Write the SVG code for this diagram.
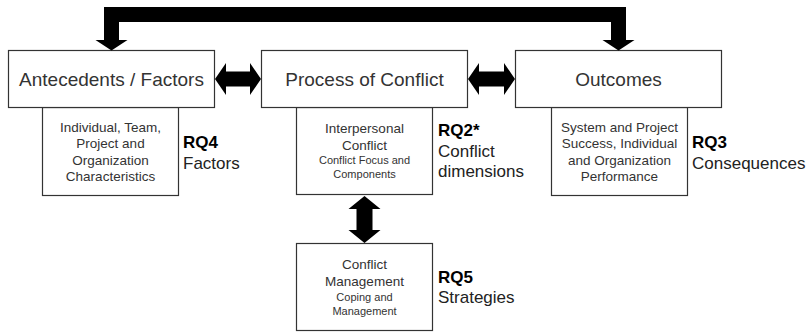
<svg xmlns="http://www.w3.org/2000/svg" width="809" height="333" viewBox="0 0 809 333">
<style>
.box{fill:#fff;stroke:#333;stroke-width:1.2}
.t{font-family:"Liberation Sans",Arial,sans-serif;fill:#333;text-anchor:middle}
.title{font-size:19px}
.s{font-size:13.5px}
.xs{font-size:11px}
.rq{font-family:"Liberation Sans",Arial,sans-serif;font-size:17px;fill:#222}
.rqb{font-weight:bold;fill:#000}
.arrow{fill:#000}
</style>
<rect width="809" height="333" fill="#fff"/>
<g id="antecedents-detail">
<rect class="box" x="42.5" y="107.5" width="136" height="88"/>
<text class="t s" x="110.5" y="131.5">Individual, Team,</text>
<text class="t s" x="110.5" y="148">Project and</text>
<text class="t s" x="110.5" y="164.5">Organization</text>
<text class="t s" x="110.5" y="181">Characteristics</text>
<text class="rq" x="183"><tspan class="rqb" x="183" y="148">RQ4</tspan><tspan x="183" y="168.5">Factors</tspan></text>
</g>
<g id="process-detail">
<rect class="box" x="296.5" y="107.5" width="136" height="87"/>
<text class="t s" x="364.5" y="133">Interpersonal</text>
<text class="t s" x="364.5" y="149.5">Conflict</text>
<text class="t xs" x="364.5" y="163.5">Conflict Focus and</text>
<text class="t xs" x="364.5" y="178">Components</text>
<text class="rq" x="438"><tspan class="rqb" x="438" y="136">RQ2*</tspan><tspan x="438" y="156.5">Conflict</tspan><tspan x="438" y="177">dimensions</tspan></text>
</g>
<g id="outcomes-detail">
<rect class="box" x="551.5" y="107.5" width="136" height="88"/>
<text class="t s" x="619.5" y="131.5">System and Project</text>
<text class="t s" x="619.5" y="148">Success, Individual</text>
<text class="t s" x="619.5" y="164.5">and Organization</text>
<text class="t s" x="619.5" y="181">Performance</text>
<text class="rq" x="692"><tspan class="rqb" x="692" y="148">RQ3</tspan><tspan x="692" y="168.5">Consequences</tspan></text>
</g>
<g id="antecedents">
<rect class="box" x="8.5" y="50.5" width="206" height="57"/>
<text class="t title" x="111.5" y="86">Antecedents / Factors</text>
</g>
<g id="process">
<rect class="box" x="261.5" y="50.5" width="206" height="57"/>
<text class="t title" x="364.5" y="86">Process of Conflict</text>
</g>
<g id="outcomes">
<rect class="box" x="515.5" y="50.5" width="206" height="57"/>
<text class="t title" x="618.5" y="86">Outcomes</text>
</g>
<g id="conflict-management">
<rect class="box" x="296.5" y="243.5" width="136" height="87"/>
<text class="t s" x="364.5" y="269">Conflict</text>
<text class="t s" x="364.5" y="285.5">Management</text>
<text class="t xs" x="364.5" y="300.5">Coping and</text>
<text class="t xs" x="364.5" y="314.5">Management</text>
<text class="rq" x="438"><tspan class="rqb" x="438" y="282.5">RQ5</tspan><tspan x="438" y="302.5">Strategies</tspan></text>
</g>
<g id="connectors">
<polygon class="arrow" points="104,7 626,7 626,40 634.5,40 618.5,50.5 602.5,40 611,40 611,22 119,22 119,40 127.5,40 111.5,50.5 95.5,40 104,40"/>
<polygon class="arrow" points="215,79 226,63 226,71.5 250,71.5 250,63 261,79 250,95 250,86.5 226,86.5 226,95"/>
<polygon class="arrow" points="468,79 479,63 479,71.5 504,71.5 504,63 515,79 504,95 504,86.5 479,86.5 479,95"/>
<polygon class="arrow" points="364.5,196 380.5,209 372.5,209 372.5,230 380.5,230 364.5,243 348.5,230 356.5,230 356.5,209 348.5,209"/>
</g>
</svg>
